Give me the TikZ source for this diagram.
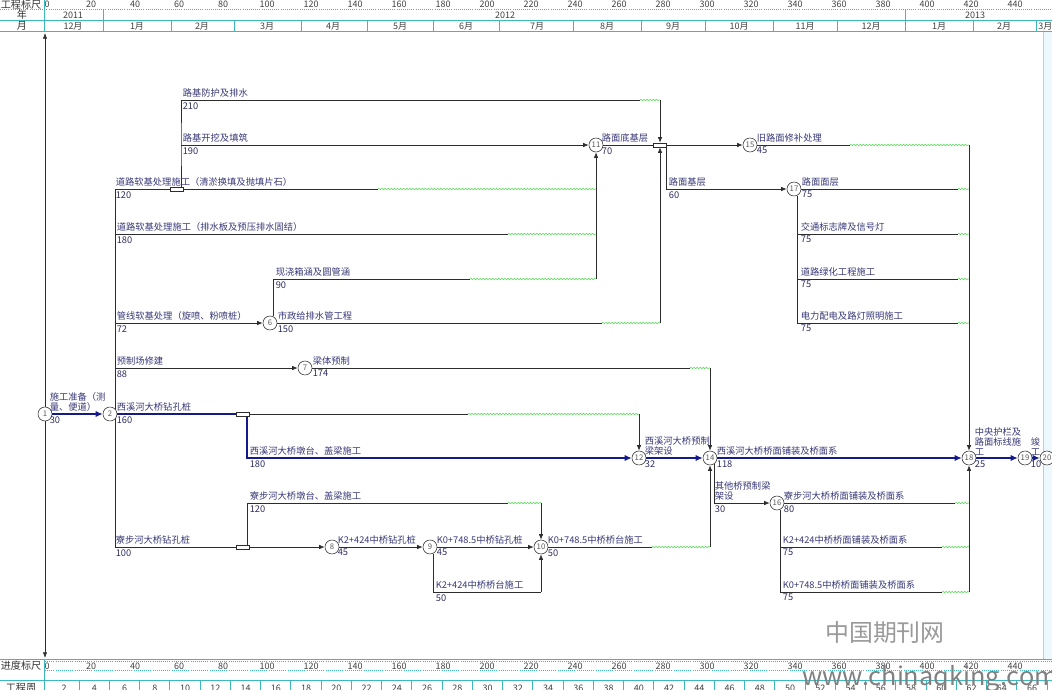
\documentclass[tikz,border=0pt]{standalone}
\usepackage{fontspec}
\setmainfont{Noto Sans CJK SC}
\usetikzlibrary{arrows.meta,decorations.pathmorphing,backgrounds}
\definecolor{gridcol}{RGB}{60,185,190}
\definecolor{critcol}{RGB}{20,25,140}
\definecolor{slackcol}{RGB}{100,220,100}
\definecolor{labcol}{RGB}{55,55,120}
\definecolor{linecol}{RGB}{45,45,45}
\newcommand\labfont{\fontsize{6.6}{7.3}\selectfont}
\begin{document}
\begin{tikzpicture}[x=0.025cm, y=-0.025cm]
    \tikzset{
    ev/.style={
        circle,
        draw=linecol,
        fill=white,
        minimum size=0.35cm,
        inner sep=0pt,
        font=\fontsize{5.5}{5.5}\selectfont,
        text=black!65
    },
    jbox/.style={
        rectangle, draw=linecol, fill=white,
        minimum width=0.33cm, minimum height=0.1cm, inner sep=0pt
    },
    act/.style={anchor=south west, inner sep=0.4pt, align=left, text=labcol, font=\labfont},
    dur/.style={anchor=north west, inner sep=0.4pt, text=labcol!80!black, font=\labfont},
    work/.style={draw=linecol, line width=0.5pt},
    crit/.style={draw=critcol, line width=2pt},
    slack/.style={draw=slackcol, line width=0.5pt, decorate,
        decoration={snake, amplitude=0.45pt, segment length=2.2pt}},
    arr/.style={-{Latex[length=4pt,width=3.2pt]}},
    carr/.style={-{Latex[length=5pt,width=4.5pt]}},
    grid/.style={draw=gridcol, line width=0.5pt},
    scal/.style={font=\fontsize{6.4}{6.4}\selectfont, text=black!75, inner sep=0pt},
    head/.style={font=\fontsize{7.2}{7.2}\selectfont, text=black!80, inner sep=0pt}
}
    \useasboundingbox (0,0) rectangle (1052,690);

    % Kopf: Maßstab, Jahr, Monat
    \draw[grid, densely dotted] (0,9.5) -- (1052,9.5);
    \draw[grid] (0,20) -- (1052,20);
    \draw[grid] (0,31.5) -- (1052,31.5);
    \draw[grid] (44,0) -- (44,31.5);
    \draw[grid] (103,9.5) -- (103,31.5);
    \draw[grid] (905,9.5) -- (905,31.5);
    \foreach \m in {171,234,301,367,433,499,573,641,705,773,837,973,1036}
        \draw[grid] (\m,20) -- (\m,31.5);
    \node[head] (hscale) at (21,4.5) {工程标尺};
    \node[head] (hyear) at (22,15) {年};
    \node[head] (hmonth) at (22,26) {月};
    \foreach \v in {0,20,...,440}
        \node[scal] (t\v) at (47+2.2*\v,4.5) {\v};
    \node[scal] (y11) at (73,15) {2011};
    \node[scal] (y12) at (505,15) {2012};
    \node[scal] (y13) at (975,15) {2013};
    \foreach \x/\mo in {73/12月,137/1月,202/2月,267/3月,333/4月,400/5月,466/6月,537/7月,
        607/8月,673/9月,739/10月,805/11月,871/12月,939/1月,1004/2月}
        \node[scal] (mo\x) at (\x,26) {\mo};
    \node[scal, anchor=west] (mo1040) at (1038,26) {3月};

    % Fuß: Fortschrittsmaßstab, Wochen
    \draw[grid] (0,659) -- (1052,659);
    \draw[grid, densely dotted] (45,661) -- (1052,661);
    \draw[grid, densely dotted] (45,670.5) -- (1052,670.5);
    \draw[grid] (0,680) -- (1052,680);
    \draw[grid] (44,659) -- (44,690);
    \node[head] (fscale) at (21,666) {进度标尺};
    \node[head] (fweek) at (21,687.5) {工程周};
    \foreach \v in {0,20,...,440}
        \node[scal] (b\v) at (47+2.2*\v,666) {\v};
    \foreach \w in {2,4,...,66} {
        \node[scal] (w\w) at ({64+15.125*(\w-2)},688) {\w};
        \draw[grid] ({79+15.125*(\w-2)},680) -- ++(0,10);
    }
    \fill[cyan!7] (1043,32) rectangle (1052,659);
    \draw[gridcol!50] (1043,32) -- (1043,659);

    % Ereignisse
    \node[ev] (n1) at (45,414) {1};
    \node[ev] (n2) at (110,414) {2};
    \node[ev] (n6) at (270,323) {6};
    \node[ev] (n7) at (305,368) {7};
    \node[ev] (n8) at (332,547) {8};
    \node[ev] (n9) at (430,547) {9};
    \node[ev] (n10) at (541,547) {10};
    \node[ev] (n11) at (596,145) {11};
    \node[ev] (n12) at (639,458) {12};
    \node[ev] (n14) at (710,458) {14};
    \node[ev] (n15) at (750,145) {15};
    \node[ev] (n16) at (777,503) {16};
    \node[ev] (n17) at (794,189) {17};
    \node[ev] (n18) at (969,458) {18};
    \node[ev] (n19) at (1025,458) {19};
    \node[ev] (n20) at (1047,458) {20};
    \node[jbox] (j1) at (177,189) {};
    \node[jbox] (j2) at (243,414) {};
    \node[jbox] (j3) at (243,547) {};
    \node[jbox] (j4) at (660,145) {};

    % Knickpunkte
    \coordinate (axT) at (45,33);
    \coordinate (axB) at (45,658);
    \coordinate (busT) at (115,189);
    \coordinate (busB) at (115,547);
    \coordinate (b181) at (181,187);
    \coordinate (m181) at (181,145);
    \coordinate (f210) at (640,100);
    \coordinate (e210) at (660,100);
    \coordinate (f120) at (378,189);
    \coordinate (e120) at (596,189);
    \coordinate (s180) at (115,234);
    \coordinate (f180) at (508,234);
    \coordinate (e180) at (596,234);
    \coordinate (f90) at (470,279);
    \coordinate (e90) at (596,279);
    \coordinate (s72) at (115,323);
    \coordinate (f150) at (602,323);
    \coordinate (e150) at (660,323);
    \coordinate (s88) at (115,368);
    \coordinate (f174) at (690,368);
    \coordinate (e174) at (710,368);
    \coordinate (f160) at (468,414);
    \coordinate (e160) at (639,414);
    \coordinate (d247) at (247,416);
    \coordinate (u247) at (247,545);
    \coordinate (f120b) at (508,503);
    \coordinate (e120b) at (541,503);
    \coordinate (c541) at (541,592);
    \coordinate (f50) at (652,547);
    \coordinate (e50) at (710,547);
    \coordinate (f80) at (955,503);
    \coordinate (e80) at (969,503);
    \coordinate (c780a) at (n16.-65 |- 0,547);
    \coordinate (f75a) at (942,547);
    \coordinate (e75a) at (969,547);
    \coordinate (f75b) at (942,592);
    \coordinate (e75b) at (969,592);
    \coordinate (s60) at (666,147);
    \coordinate (f45) at (850,145);
    \coordinate (e45) at (969,145);
    \coordinate (f75c) at (958,189);
    \coordinate (e75c) at (969,189);
    \coordinate (c797a) at (n17.-65 |- 0,234);
    \coordinate (f75d) at (958,234);
    \coordinate (e75d) at (969,234);
    \coordinate (c797b) at (n17.-65 |- 0,279);
    \coordinate (f75e) at (958,279);
    \coordinate (e75e) at (969,279);
    \coordinate (f75f) at (958,323);
    \coordinate (e75f) at (969,323);

    \begin{scope}[on background layer]
    \draw[linecol, {Latex[length=4pt,width=3pt]}-{Latex[length=4pt,width=3pt]}] (axT) -- (axB);
    % kritischer Weg
    \draw[crit, carr] (n1) -- (n2);
    \draw[crit] (n2) -- (j2);
    \draw[crit, carr] (d247) |- (n12);
    \draw[crit, carr] (n12) -- (n14);
    \draw[crit, carr] (n14) -- (n18);
    \draw[crit, carr] (n18) -- (n19);
    \draw[crit, carr] (n19) -- (n20);
    % Straßenbau
    \draw[work] (busT) -- (busB);
    \draw[work] (busT) -- (f120);
    \draw[slack] (f120) -- (e120);
    \draw[work] (b181) -- (m181) -- (m181 |- f210) -- (f210);
    \draw[slack] (f210) -- (e210);
    \draw[work, arr] (e210) -- (j4);
    \draw[work, arr] (m181) -- (n11);
    \draw[work] (s180) -- (f180);
    \draw[slack] (f180) -- (e180);
    \draw[work, arr] (s72) -- (n6);
    \draw[work] (n6.65) |- (f90);
    \draw[slack] (f90) -- (e90);
    \draw[work, arr] (e90) -- (n11);
    \draw[work] (n6) -- (f150);
    \draw[slack] (f150) -- (e150);
    \draw[work, arr] (e150) -- (j4);
    \draw[work] (n11) -- (j4);
    \draw[work, arr] (j4) -- (n15);
    \draw[work, arr] (s60) |- (n17);
    \draw[work] (n15) -- (f45);
    \draw[slack] (f45) -- (e45);
    \draw[work, arr] (e45) -- (n18);
    \draw[work] (n17) -- (f75c);
    \draw[slack] (f75c) -- (e75c);
    \draw[work] (n17.-65) |- (f75f);
    \draw[slack] (f75f) -- (e75f);
    \draw[work] (c797a) -- (f75d);
    \draw[slack] (f75d) -- (e75d);
    \draw[work] (c797b) -- (f75e);
    \draw[slack] (f75e) -- (e75e);
    % Brücken
    \draw[work, arr] (s88) -- (n7);
    \draw[work] (n7) -- (f174);
    \draw[slack] (f174) -- (e174);
    \draw[work, arr] (e174) -- (n14);
    \draw[work] (j2) -- (f160);
    \draw[slack] (f160) -- (e160);
    \draw[work, arr] (e160) -- (n12);
    \draw[work] (busB) -- (j3);
    \draw[work, arr] (j3) -- (n8);
    \draw[work] (u247) |- (f120b);
    \draw[slack] (f120b) -- (e120b);
    \draw[work, arr] (e120b) -- (n10);
    \draw[work, arr] (n8) -- (n9);
    \draw[work, arr] (n9) -- (n10);
    \draw[work] (n9.-65) |- (c541);
    \draw[work, arr] (c541) -- (n10);
    \draw[work] (n10) -- (f50);
    \draw[slack] (f50) -- (e50);
    \draw[work, arr] (e50) -- (n14);
    \draw[work, arr] (n14.-55) |- (n16);
    \draw[work] (n16) -- (f80);
    \draw[slack] (f80) -- (e80);
    \draw[work] (n16.-65) |- (f75b);
    \draw[work] (c780a) -- (f75a);
    \draw[slack] (f75a) -- (e75a);
    \draw[slack] (f75b) -- (e75b);
    \draw[work, arr] (e75b) -- (n18);
    \end{scope}

    % Vorgänge: Name oben, Dauer unten
    \foreach \nm/\x/\y/\t/\d in {
        l1/49/414/{施工准备（测\\量、便道）}/30,
        l2/116/414/{西溪河大桥钻孔桩}/160,
        l3/249/458/{西溪河大桥墩台、盖梁施工}/180,
        l4/644/458/{西溪河大桥预制\\梁架设}/32,
        l5/716/458/{西溪河大桥桥面铺装及桥面系}/118,
        l6/974/458/{中央护栏及\\路面标线施\\工}/25,
        l7/1030/458/{竣\\工}/10,
        l8/115/189/{道路软基处理施工（清淤换填及抛填片石）}/120,
        l9/182/100/{路基防护及排水}/210,
        l10/182/145/{路基开挖及填筑}/190,
        l11/116/234/{道路软基处理施工（排水板及预压排水固结）}/180,
        l12/275/279/{现浇箱涵及圆管涵}/90,
        l13/116/323/{管线软基处理（旋喷、粉喷桩）}/72,
        l14/277/323/{市政给排水管工程}/150,
        l15/116/368/{预制场修建}/88,
        l16/312/368/{梁体预制}/174,
        l17/115/547/{寮步河大桥钻孔桩}/100,
        l18/249/503/{寮步河大桥墩台、盖梁施工}/120,
        l19/337/547/{K2+424中桥钻孔桩}/45,
        l20/436/547/{K0+748.5中桥钻孔桩}/45,
        l21/435/592/{K2+424中桥桥台施工}/50,
        l22/547/547/{K0+748.5中桥桥台施工}/50,
        l23/714/503/{其他桥预制梁\\架设}/30,
        l24/783/503/{寮步河大桥桥面铺装及桥面系}/80,
        l25/782/547/{K2+424中桥桥面铺装及桥面系}/75,
        l26/782/592/{K0+748.5中桥桥面铺装及桥面系}/75,
        l27/601/145/{路面底基层}/70,
        l28/668/189/{路面基层}/60,
        l29/756/145/{旧路面修补处理}/45,
        l30/801/189/{路面面层}/75,
        l31/800/234/{交通标志牌及信号灯}/75,
        l32/800/279/{道路绿化工程施工}/75,
        l33/800/323/{电力配电及路灯照明施工}/75}{
        \node[act] (\nm-a) at (\x,\y-1.5) {\t};
        \node[dur] (\nm-d) at (\x,\y+1.5) {\d};
    }

    % Wasserzeichen
    \node[text=black!40, font=\fontsize{17}{17}\selectfont, inner sep=0pt] (wm1) at (885,632) {中国期刊网};
    \node[text=black!50, font=\fontsize{18}{18}\selectfont, inner sep=0pt] (wm2) at (930,679) {www.chinaqking.com};
\end{tikzpicture}
\end{document}
